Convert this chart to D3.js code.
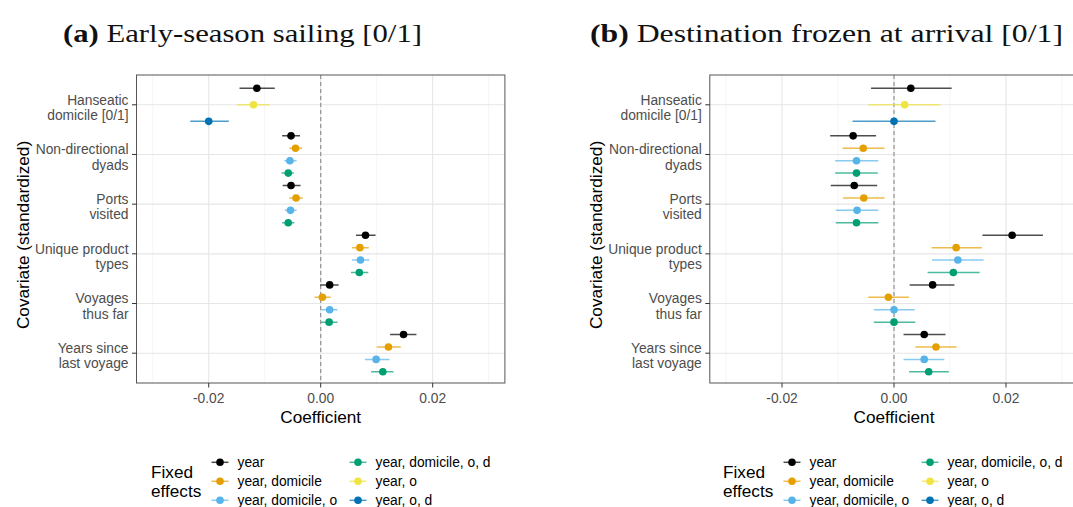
<!DOCTYPE html>
<html>
<head>
<meta charset="utf-8">
<script src="https://cdn.jsdelivr.net/npm/d3@7"></script>
<style>
  html, body { margin: 0; padding: 0; background: #fff; }
  svg { display: block; }
  text { font-family: "Liberation Sans", Arial, sans-serif; }
  text.panel-title { font-family: "Liberation Serif", "DejaVu Serif", serif; }
</style>
</head>
<body>
<svg id="chart" width="1073" height="507"></svg>
<script>
// Covariates (top to bottom) and fixed-effect specifications
const covariates = [
  ["Hanseatic", "domicile [0/1]"],
  ["Non-directional", "dyads"],
  ["Ports", "visited"],
  ["Unique product", "types"],
  ["Voyages", "thus far"],
  ["Years since", "last voyage"]
];
const fixedEffects = ["year", "year, domicile", "year, domicile, o", "year, domicile, o, d", "year, o", "year, o, d"];
const effectColours = ["#000000", "#E69F00", "#56B4E9", "#009E73", "#F0E442", "#0072B2"];

// One entry per estimate: which covariate and which specification
const rowCovariate = [0, 0, 0, 1, 1, 1, 1, 2, 2, 2, 2, 3, 3, 3, 3, 4, 4, 4, 4, 5, 5, 5, 5];
const rowEffect    = [0, 4, 5, 0, 1, 2, 3, 0, 1, 2, 3, 0, 1, 2, 3, 0, 1, 2, 3, 0, 1, 2, 3];

// (a) Early-season sailing
const earlyEst  = [-0.0114, -0.0120, -0.0200, -0.0053, -0.0045, -0.0055, -0.0058, -0.0053, -0.0044, -0.0054, -0.0058, 0.0080, 0.0070, 0.0071, 0.0069, 0.0016, 0.0003, 0.0016, 0.0015, 0.0148, 0.0121, 0.0099, 0.0111];
const earlyLow  = [-0.0145, -0.0150, -0.0233, -0.0069, -0.0056, -0.0065, -0.0070, -0.0068, -0.0056, -0.0064, -0.0069, 0.0063, 0.0056, 0.0056, 0.0054, -0.0001, -0.0011, 0.0001, 0.0001, 0.0124, 0.0100, 0.0079, 0.0090];
const earlyHigh = [-0.0082, -0.0091, -0.0164, -0.0037, -0.0033, -0.0043, -0.0048, -0.0036, -0.0032, -0.0043, -0.0047, 0.0098, 0.0086, 0.0087, 0.0085, 0.0032, 0.0018, 0.0030, 0.0030, 0.0171, 0.0143, 0.0123, 0.0130];

// (b) Destination frozen at arrival
const frozenEst  = [0.0030, 0.0019, 0.0000, -0.0073, -0.0055, -0.0067, -0.0067, -0.0071, -0.0054, -0.0066, -0.0067, 0.0211, 0.0111, 0.0114, 0.0106, 0.0069, -0.0010, 0.0000, 0.0000, 0.0054, 0.0075, 0.0054, 0.0062];
const frozenLow  = [-0.0041, -0.0046, -0.0074, -0.0114, -0.0092, -0.0105, -0.0105, -0.0113, -0.0091, -0.0104, -0.0104, 0.0158, 0.0067, 0.0068, 0.0060, 0.0028, -0.0046, -0.0036, -0.0036, 0.0017, 0.0038, 0.0017, 0.0027];
const frozenHigh = [0.0103, 0.0083, 0.0074, -0.0032, -0.0017, -0.0028, -0.0029, -0.0030, -0.0017, -0.0028, -0.0028, 0.0266, 0.0157, 0.0160, 0.0153, 0.0108, 0.0027, 0.0037, 0.0038, 0.0092, 0.0112, 0.0090, 0.0098];

const xTicksMajor = [-0.02, 0, 0.02];
const xTicksMinor = [-0.03, -0.01, 0.01, 0.03];
const xTickLabels = ["-0.02", "0.00", "0.02"];

const svg = d3.select("#chart");

function drawPanel(opts) {
  const { left, top, width, height, title, titleTag, titleLength, est, low, high } = opts;
  const g = svg.append("g");

  const x = d3.scaleLinear().domain([-0.0329, 0.0329]).range([left, left + width]);
  const y = d3.scaleLinear().domain([-0.6, covariates.length - 0.4]).range([top, top + height]);

  // Clip so the panel never paints past the page edge
  const clipId = "clip-" + titleTag.replace(/\W/g, "");
  svg.append("clipPath").attr("id", clipId)
    .append("rect").attr("x", left).attr("y", top).attr("width", width).attr("height", height);
  const inner = g.append("g").attr("clip-path", `url(#${clipId})`);

  // Gridlines
  inner.selectAll(".gminor").data(xTicksMinor).join("line")
    .attr("x1", d => x(d)).attr("x2", d => x(d)).attr("y1", top).attr("y2", top + height)
    .attr("stroke", "#f0f0f0").attr("stroke-width", 0.7);
  inner.selectAll(".gmajor").data(xTicksMajor).join("line")
    .attr("x1", d => x(d)).attr("x2", d => x(d)).attr("y1", top).attr("y2", top + height)
    .attr("stroke", "#e6e6e6").attr("stroke-width", 1.1);
  inner.selectAll(".gy").data(covariates.map((c, i) => i)).join("line")
    .attr("x1", left).attr("x2", left + width).attr("y1", d => y(d)).attr("y2", d => y(d))
    .attr("stroke", "#e6e6e6").attr("stroke-width", 1.1);

  // Zero reference line
  inner.append("line")
    .attr("x1", x(0)).attr("x2", x(0)).attr("y1", top).attr("y2", top + height)
    .attr("stroke", "#8a8a8a").attr("stroke-width", 1.1).attr("stroke-dasharray", "4,3");

  // Dodged estimates within each covariate
  const rows = rowCovariate.map((c, i) => {
    const members = rowCovariate.map((cc, j) => cc === c ? j : -1).filter(j => j >= 0);
    const n = members.length, k = members.indexOf(i);
    return { pos: c + (k - (n - 1) / 2) / n, fe: rowEffect[i], est: est[i], low: low[i], high: high[i] };
  });

  inner.selectAll(".ci").data(rows).join("line")
    .attr("x1", d => x(d.low)).attr("x2", d => x(d.high))
    .attr("y1", d => y(d.pos)).attr("y2", d => y(d.pos))
    .attr("stroke", d => effectColours[d.fe]).attr("stroke-width", 1.5).attr("stroke-opacity", 0.7);
  inner.selectAll(".pt").data(rows).join("circle")
    .attr("cx", d => x(d.est)).attr("cy", d => y(d.pos)).attr("r", 3.8)
    .attr("fill", d => effectColours[d.fe]);

  // Panel border
  g.append("rect").attr("x", left).attr("y", top).attr("width", width).attr("height", height)
    .attr("fill", "none").attr("stroke", "#555").attr("stroke-width", 1);

  // Y axis: ticks and two-line labels
  covariates.forEach((lines, i) => {
    g.append("line").attr("x1", left - 4.5).attr("x2", left).attr("y1", y(i)).attr("y2", y(i))
      .attr("stroke", "#333").attr("stroke-width", 1);
    const t = g.append("text").attr("text-anchor", "end").attr("font-size", 13.8).attr("fill", "#4d4d4d");
    lines.forEach((ln, j) => {
      t.append("tspan").attr("x", left - 8).attr("y", y(i) + (j - 0.5) * 15.5 + 7.5)
        .text(ln);
    });
  });

  // X axis: ticks and labels
  xTicksMajor.forEach((v, i) => {
    g.append("line").attr("x1", x(v)).attr("x2", x(v)).attr("y1", top + height).attr("y2", top + height + 4.5)
      .attr("stroke", "#333").attr("stroke-width", 1);
    g.append("text").attr("x", x(v)).attr("y", top + height + 20).attr("text-anchor", "middle")
      .attr("font-size", 13.8).attr("fill", "#4d4d4d").text(xTickLabels[i]);
  });

  // Axis titles
  g.append("text").attr("x", x(0)).attr("y", top + height + 40)
    .attr("text-anchor", "middle").attr("font-size", 17.2).attr("fill", "#000").text("Coefficient");
  g.append("text").attr("transform", `translate(${left - 108},${top + height / 2 + 6}) rotate(-90)`)
    .attr("text-anchor", "middle").attr("font-size", 17.2).attr("fill", "#000").text("Covariate (standardized)");

  // Panel title
  const tt = g.append("text").attr("class", "panel-title").attr("x", opts.titleX).attr("y", 42)
    .attr("font-size", 24.5).attr("fill", "#111")
    .attr("textLength", titleLength).attr("lengthAdjust", "spacingAndGlyphs");
  tt.append("tspan").attr("font-weight", "bold").text(titleTag);
  tt.append("tspan").text(" " + title);

  // Legend
  const lg = g.append("g");
  const lx = opts.legendX;
  lg.append("text").attr("x", lx).attr("y", 478).attr("font-size", 17.2).attr("fill", "#000").text("Fixed");
  lg.append("text").attr("x", lx).attr("y", 497).attr("font-size", 17.2).attr("fill", "#000").text("effects");
  fixedEffects.forEach((fe, i) => {
    const col = Math.floor(i / 3), row = i % 3;
    const kx = lx + 69 + col * 138, ky = 462.3 + row * 19;
    lg.append("line").attr("x1", kx - 8.5).attr("x2", kx + 8.5).attr("y1", ky).attr("y2", ky)
      .attr("stroke", effectColours[i]).attr("stroke-width", 1.5).attr("stroke-opacity", 0.7);
    lg.append("circle").attr("cx", kx).attr("cy", ky).attr("r", 3.8).attr("fill", effectColours[i]);
    lg.append("text").attr("x", kx + 17.5).attr("y", ky + 5).attr("font-size", 13.8).attr("fill", "#000").text(fe);
  });
}

drawPanel({
  left: 136.5, top: 75, width: 368.4, height: 308,
  titleTag: "(a)", title: "Early-season sailing [0/1]", titleX: 63, titleLength: 359,
  legendX: 151, est: earlyEst, low: earlyLow, high: earlyHigh
});
drawPanel({
  left: 709.8, top: 75, width: 368.4, height: 308,
  titleTag: "(b)", title: "Destination frozen at arrival [0/1]", titleX: 590, titleLength: 473,
  legendX: 723, est: frozenEst, low: frozenLow, high: frozenHigh
});
</script>
</body>
</html>
